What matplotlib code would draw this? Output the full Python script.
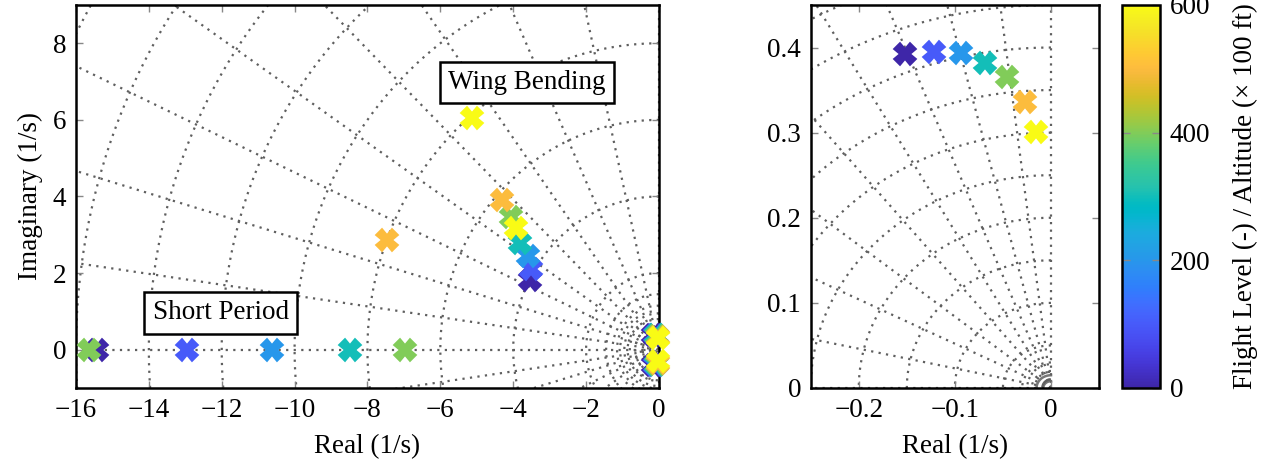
import numpy as np
import matplotlib
matplotlib.use("Agg")
import matplotlib.pyplot as plt
from matplotlib.colors import LinearSegmentedColormap, Normalize
from matplotlib.cm import ScalarMappable

# ---------------- data ----------------
levels = [0, 100, 200, 300, 400, 500, 600]

# short-period poles (one per level) + an extra real pole for FL400
sp_re = [-15.41, -12.96, -10.61, -8.48, -6.97, -7.46, -5.14]
sp_im = [0.0, 0.0, 0.0, 0.0, 0.0, 2.86, 6.04]
sp_extra_re = [-15.64]
sp_extra_im = [0.0]
sp_extra_level = [400]

# wing-bending poles
wb_re = [-3.54, -3.52, -3.59, -3.81, -4.07, -4.30, -3.92]
wb_im = [1.82, 2.10, 2.45, 2.78, 3.46, 3.92, 3.17]

# phugoid poles (upper half; conjugates drawn too)
ph_re = [-0.152, -0.1215, -0.094, -0.069, -0.046, -0.027, -0.016]
ph_im = [0.392, 0.395, 0.393, 0.382, 0.365, 0.336, 0.301]

# grid definitions
left_wn = [0.1, 0.2, 0.3, 0.4, 0.5, 0.65, 0.8, 0.95, 1.15, 1.45, 2, 4, 6, 8, 10, 12, 14, 16, 18]
left_zeta = [0.14, 0.28, 0.42, 0.56, 0.70, 0.81, 0.91, 0.975]
right_wn = [0.02, 0.03, 0.05, 0.10, 0.15, 0.20, 0.25, 0.30, 0.35, 0.40, 0.45, 0.50]
right_solid_wn = [0.008, 0.015]
right_angles_deg = [13.0, 27.5, 40.0, 52.0, 61.5, 69.2, 76.5, 83.3]

# parula colormap (MATLAB), 64 entries
parula_data = [
    [0.2422, 0.1504, 0.6603], [0.2504, 0.1650, 0.7076], [0.2578, 0.1818, 0.7511], [0.2647, 0.1978, 0.7952],
    [0.2706, 0.2147, 0.8364], [0.2751, 0.2342, 0.8710], [0.2783, 0.2559, 0.8991], [0.2803, 0.2782, 0.9221],
    [0.2813, 0.3006, 0.9414], [0.2810, 0.3228, 0.9579], [0.2795, 0.3447, 0.9717], [0.2760, 0.3667, 0.9829],
    [0.2699, 0.3892, 0.9906], [0.2602, 0.4123, 0.9952], [0.2440, 0.4358, 0.9988], [0.2206, 0.4603, 0.9973],
    [0.1963, 0.4847, 0.9892], [0.1834, 0.5074, 0.9798], [0.1786, 0.5289, 0.9682], [0.1764, 0.5499, 0.9520],
    [0.1687, 0.5703, 0.9359], [0.1540, 0.5902, 0.9218], [0.1460, 0.6091, 0.9079], [0.1380, 0.6276, 0.8973],
    [0.1248, 0.6459, 0.8883], [0.1113, 0.6635, 0.8763], [0.0952, 0.6798, 0.8598], [0.0689, 0.6948, 0.8394],
    [0.0297, 0.7082, 0.8163], [0.0036, 0.7203, 0.7917], [0.0067, 0.7312, 0.7660], [0.0433, 0.7411, 0.7394],
    [0.0964, 0.7500, 0.7120], [0.1408, 0.7584, 0.6842], [0.1717, 0.7670, 0.6554], [0.1938, 0.7758, 0.6251],
    [0.2161, 0.7843, 0.5923], [0.2470, 0.7918, 0.5567], [0.2906, 0.7973, 0.5188], [0.3406, 0.8008, 0.4789],
    [0.3909, 0.8029, 0.4354], [0.4456, 0.8024, 0.3909], [0.5044, 0.7993, 0.3480], [0.5616, 0.7942, 0.3045],
    [0.6174, 0.7876, 0.2612], [0.6720, 0.7793, 0.2227], [0.7242, 0.7698, 0.1910], [0.7738, 0.7598, 0.1646],
    [0.8203, 0.7498, 0.1535], [0.8634, 0.7406, 0.1596], [0.9035, 0.7330, 0.1774], [0.9393, 0.7288, 0.2100],
    [0.9728, 0.7298, 0.2394], [0.9956, 0.7434, 0.2371], [0.9970, 0.7659, 0.2199], [0.9952, 0.7893, 0.2028],
    [0.9892, 0.8136, 0.1885], [0.9786, 0.8386, 0.1766], [0.9676, 0.8639, 0.1643], [0.9610, 0.8890, 0.1537],
    [0.9597, 0.9135, 0.1423], [0.9628, 0.9373, 0.1265], [0.9691, 0.9606, 0.1064], [0.9769, 0.9839, 0.0805],
]
parula = LinearSegmentedColormap.from_list("parula", parula_data, N=256)
norm = Normalize(vmin=0, vmax=600)

# ---------------- style ----------------
plt.rcParams["font.family"] = ["Liberation Serif", "DejaVu Serif"]
plt.rcParams["font.size"] = 19.5
plt.rcParams["axes.unicode_minus"] = True

GRID = dict(color="#5f5f5f", lw=1.6, linestyle=(0, (1, 2.4)), zorder=1)
MS = 15.5

fig = plt.figure(figsize=(12.66, 4.65), dpi=100)
ax1 = fig.add_axes([0.0600, 0.1656, 0.4605, 0.8237])
ax2 = fig.add_axes([0.6404, 0.1656, 0.2277, 0.8237])
cax = fig.add_axes([0.8863, 0.1656, 0.0300, 0.8237])


def draw_grid(ax, wn_list, angles_deg, rmax, solid_wn=()):
    t = np.linspace(np.pi / 2, 3 * np.pi / 2, 721)
    for w in wn_list:
        ax.plot(w * np.cos(t), w * np.sin(t), **GRID)
    for w in solid_wn:
        ax.plot(w * np.cos(t), w * np.sin(t), color="#777777", lw=1.8, zorder=1)
    for a in angles_deg:
        th = np.deg2rad(a)
        for s in (1, -1):
            ax.plot([0, -rmax * np.cos(th)], [0, s * rmax * np.sin(th)], **GRID)
    ax.plot([-rmax, 0], [0, 0], **GRID)
    ax.plot([0, 0], [-rmax, rmax], **GRID)


left_angles = list(np.degrees(np.arcsin(left_zeta)))
draw_grid(ax1, left_wn, left_angles, 40)
draw_grid(ax2, right_wn, right_angles_deg, 2, solid_wn=right_solid_wn)

# ---------------- poles ----------------
for i, lv in enumerate(levels):
    c = parula(norm(lv))
    xs = [sp_re[i], wb_re[i], ph_re[i], ph_re[i]]
    ys = [sp_im[i], wb_im[i], ph_im[i], -ph_im[i]]
    for k, el in enumerate(sp_extra_level):
        if el == lv:
            xs.append(sp_extra_re[k])
            ys.append(sp_extra_im[k])
    ax1.plot(xs, ys, linestyle="none", marker="X", ms=MS, mew=1.3, mec=c, color=c,
             zorder=4, clip_on=False)
    ax2.plot([ph_re[i]], [ph_im[i]], linestyle="none", marker="X", ms=MS, mew=1.3,
             mec=c, color=c, zorder=4, clip_on=False)

# ---------------- annotations ----------------
box = dict(boxstyle="square,pad=0.3", fc="white", ec="black", lw=1.8)
ax1.text(-12.03, 0.96, "Short Period", ha="center", va="center", bbox=box, zorder=5)
ax1.text(-3.63, 6.98, "Wing Bending", ha="center", va="center", bbox=box, zorder=5)

# ---------------- axes ----------------
ax1.set_xlim(-16, 0)
ax1.set_ylim(-1, 9)
ax1.set_xticks([-16, -14, -12, -10, -8, -6, -4, -2, 0])
ax1.set_yticks([0, 2, 4, 6, 8])
ax1.set_xlabel("Real (1/s)", labelpad=8)
ax1.set_ylabel("Imaginary (1/s)", labelpad=7)

ax2.set_xlim(-0.25, 0.05)
ax2.set_ylim(0, 0.45)
ax2.set_xticks([-0.2, -0.1, 0])
ax2.set_xticklabels(["\u22120.2", "\u22120.1", "0"])
ax2.set_yticks([0, 0.1, 0.2, 0.3, 0.4])
ax2.set_yticklabels(["0", "0.1", "0.2", "0.3", "0.4"])
ax2.set_xlabel("Real (1/s)", labelpad=8)

for ax in (ax1, ax2):
    ax.tick_params(direction="in", length=5, width=1.0, color="#888888",
                   top=True, right=True, pad=7)
    for sp in ax.spines.values():
        sp.set_linewidth(1.8)
        sp.set_zorder(3)

cb = fig.colorbar(ScalarMappable(norm=norm, cmap=parula), cax=cax)
cb.set_ticks([0, 200, 400, 600])
cb.set_label("Flight Level (-) / Altitude (\u00d7 100 ft)", labelpad=16)
cb.outline.set_linewidth(1.8)
cax.tick_params(direction="in", length=6, width=1.0, color="#888888",
                left=True, right=True, pad=7)

fig.savefig("out.png", dpi=100)
